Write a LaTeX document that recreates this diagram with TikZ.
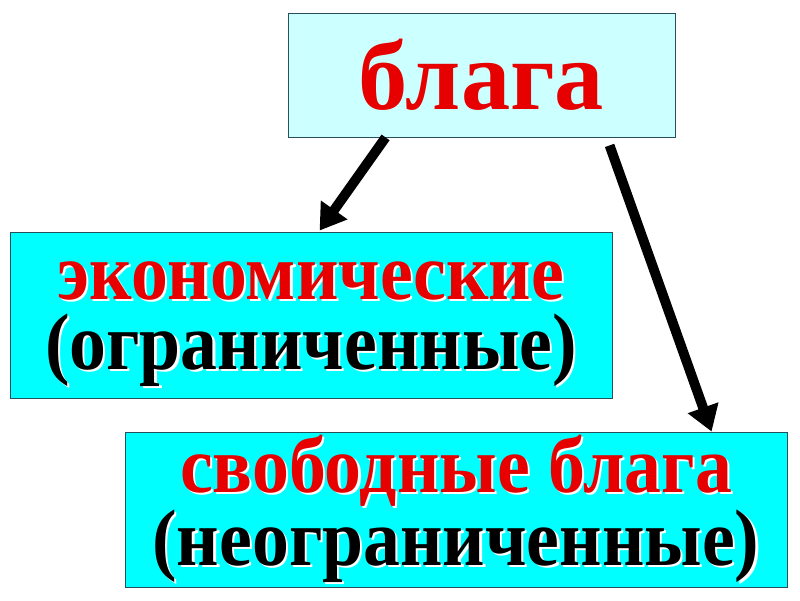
\documentclass[tikz,border=0pt]{standalone}
\usepackage{fontspec}
\setmainfont{Liberation Serif}
\newfontfamily\goodsfont{Liberation Serif}[FakeStretch=0.92]
\usetikzlibrary{arrows.meta,calc}
\definecolor{paleaqua}{RGB}{204,255,255}
\definecolor{aquafill}{RGB}{0,255,255}
\definecolor{boxborder}{RGB}{40,80,90}
\definecolor{goodsred}{RGB}{230,0,0}
% text with a light shadow to the lower right
\newcommand{\glowtext}[2]{%
  \makebox[0pt][l]{\hspace{1.5pt}\raisebox{-1.5pt}{\color{white}#2}}{\color{#1}#2}}
\begin{document}
\begin{tikzpicture}[
      x=0.025cm, y=-0.025cm,
      goodsbox/.style={
        rectangle,
        draw=boxborder,
        line width=0.6pt,
        fill=aquafill,
        inner sep=0pt
      },
      goodstext/.style={
        align=center,
        inner sep=0pt,
        font=\goodsfont\bfseries\fontsize{57}{50}\selectfont
      },
      bigarrow/.style={
        -{Triangle[length=18pt,width=22pt]},
        line width=7pt,
        black
      }
    ]
    \useasboundingbox (0,0) rectangle (800,600);

    % Boxes
    \node[goodsbox, fill=paleaqua, minimum width=387*0.025cm, minimum height=124*0.025cm,
          font=\bfseries\fontsize{70}{70}\selectfont] (goods) at (481.5,75)
      {\color{goodsred}блага};
    \node[goodsbox, minimum width=602*0.025cm, minimum height=166*0.025cm] (economic)
      at (311,315) {};
    \node[goodsbox, minimum width=662*0.025cm, minimum height=155*0.025cm] (free)
      at (456,509.5) {};

    % Texts
    \node[goodstext] (economictext) at ($(economic.center)+(0,10)$)
      {\glowtext{goodsred}{экономические}\\ \glowtext{black}{(ограниченные)}};
    \node[goodstext, font=\goodsfont\bfseries\fontsize{57}{52}\selectfont] (freetext)
      at ($(free.center)+(0,0)$)
      {\glowtext{goodsred}{свободные блага}\\ \glowtext{black}{(неограниченные)}};

    % Arrows
    \draw[bigarrow] ($(goods.south west)+(98,0)$) -- ($(economic.north west)+(310,-1)$);
    \draw[bigarrow] ($(goods.south west)+(322,8)$) -- ($(free.north west)+(587,0)$);

\end{tikzpicture}
\end{document}
